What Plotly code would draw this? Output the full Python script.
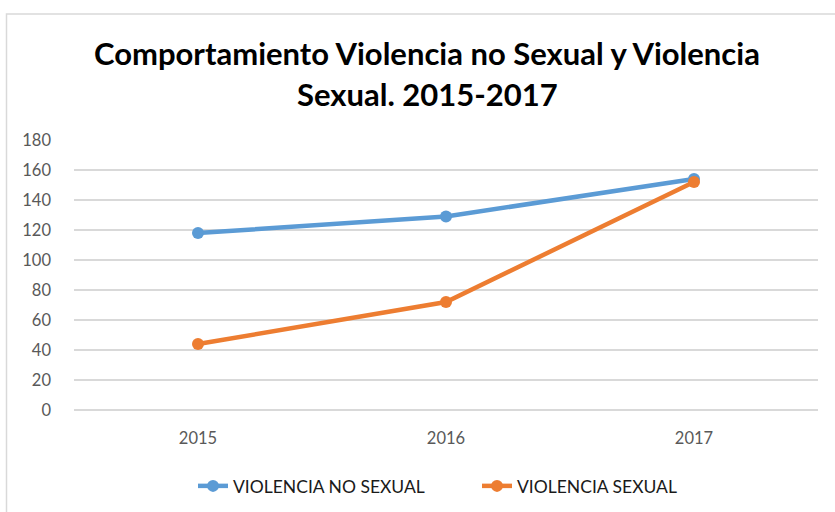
import plotly.graph_objects as go

# Data
years = ["2015", "2016", "2017"]
violencia_no_sexual = [118, 129, 154]
violencia_sexual = [44, 72, 152]
y_ticks = [0, 20, 40, 60, 80, 100, 120, 140, 160, 180]

title_line1 = "Comportamiento Violencia no Sexual y Violencia"
title_line2 = "Sexual. 2015-2017"

BLUE = "#5B9BD5"
ORANGE = "#ED7D31"
GRID = "#D9D9D9"
TICK = "#595959"
FONT = "Lato"

L, R, T, B = 74, 17, 140, 102
W, H = 835, 512
pw = W - L - R
ph = H - T - B

def px_x(x):
    return (x - L) / pw

def px_y(y):
    return (H - B - y) / ph

fig = go.Figure()
fig.add_trace(go.Scatter(
    x=years, y=violencia_no_sexual, name="VIOLENCIA NO SEXUAL",
    mode="lines+markers",
    line=dict(color=BLUE, width=4.5),
    marker=dict(color=BLUE, size=12),
    legend="legend",
))
fig.add_trace(go.Scatter(
    x=years, y=violencia_sexual, name="VIOLENCIA SEXUAL",
    mode="lines+markers",
    line=dict(color=ORANGE, width=4.5),
    marker=dict(color=ORANGE, size=12),
    legend="legend2",
))

legend_font = dict(family=FONT, size=17.5, color="#1a1a1a")

fig.update_layout(
    width=W, height=H,
    margin=dict(l=L, r=R, t=T, b=B, pad=0, autoexpand=False),
    paper_bgcolor="white", plot_bgcolor="white",
    font=dict(family=FONT, color=TICK),
    showlegend=True,
    legend=dict(
        x=px_x(193), xanchor="left", y=px_y(486), yanchor="middle",
        font=legend_font, bgcolor="rgba(0,0,0,0)",
    ),
    legend2=dict(
        x=px_x(477), xanchor="left", y=px_y(486), yanchor="middle",
        font=legend_font, bgcolor="rgba(0,0,0,0)",
    ),
    xaxis=dict(
        type="category", showgrid=False, zeroline=False,
        showline=False, ticks="",
        tickfont=dict(family=FONT, size=16.5, color=TICK),
        ticklabelstandoff=16,
        range=[-0.5, 2.5],
    ),
    yaxis=dict(
        range=[0, 180], tickvals=y_ticks,
        showgrid=True, gridcolor=GRID, gridwidth=1.5,
        zeroline=True, zerolinecolor=GRID, zerolinewidth=1.5,
        showline=False, ticks="",
        tickfont=dict(family=FONT, size=16.5, color=TICK),
        ticklabelstandoff=22,
    ),
    shapes=[dict(
        type="rect", xref="paper", yref="paper",
        x0=px_x(6.5), x1=px_x(W + 20), y0=px_y(H + 20), y1=px_y(14),
        line=dict(color=GRID, width=1.5), fillcolor="rgba(0,0,0,0)",
        layer="below",
    )],
    annotations=[
        dict(text="<b>" + title_line1 + "</b>", xref="paper", yref="paper",
             x=px_x(427), y=px_y(53), xanchor="center", yanchor="middle",
             showarrow=False, font=dict(family=FONT, size=31, color="#000000")),
        dict(text="<b>" + title_line2 + "</b>", xref="paper", yref="paper",
             x=px_x(427), y=px_y(94), xanchor="center", yanchor="middle",
             showarrow=False, font=dict(family=FONT, size=31, color="#000000")),
    ],
)

fig.write_html("out.html")
